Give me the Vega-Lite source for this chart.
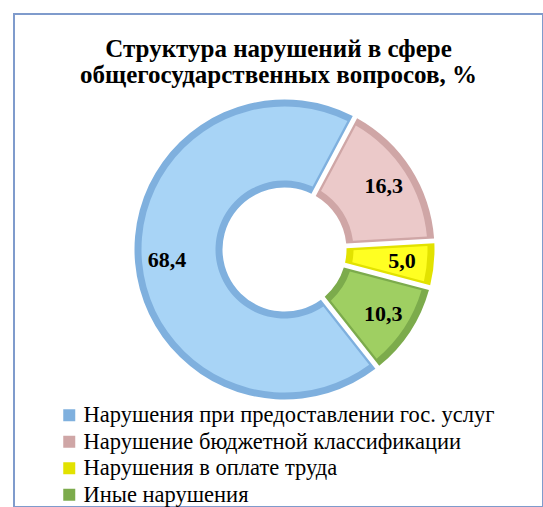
{
  "$schema": "https://vega.github.io/schema/vega-lite/v6.json",
  "width": 543,
  "height": 507,
  "autosize": {"type": "fit", "contains": "padding"},
  "padding": {"left": 14, "top": 14, "right": 0, "bottom": 0},
  "background": "white",
  "view": {"stroke": "#7f9bcc", "strokeWidth": 2, "fill": "white", "cornerRadius": 0},
  "config": {
    "view": {"stroke": "#7f9bcc", "strokeWidth": 2, "fill": "white", "cornerRadius": 0},
    "locale": {"number": {"decimal": ",", "thousands": " ", "grouping": [3], "currency": ["", ""]}}
  },
  "title": {
    "text": ["Структура нарушений в сфере", "общегосударственных вопросов, %"],
    "font": "Liberation Serif",
    "fontSize": 25,
    "fontWeight": "bold",
    "color": "black",
    "anchor": "middle",
    "lineHeight": 26,
    "offset": -74
  },
  "data": {
    "values": [
      {"category": "Нарушение бюджетной классификации", "value": 16.3, "k": 1},
      {"category": "Нарушения в оплате труда", "value": 5.0, "k": 2},
      {"category": "Иные нарушения", "value": 10.3, "k": 3},
      {"category": "Нарушения при предоставлении гос. услуг", "value": 68.4, "k": 4}
    ]
  },
  "encoding": {
    "theta": {"field": "value", "type": "quantitative", "stack": true, "scale": {"range": [0.489, 6.772]}},
    "order": {"field": "k", "type": "quantitative"}
  },
  "layer": [
    {
      "mark": {"type": "arc", "innerRadius": 62, "outerRadius": 150, "padAngle": 0.03, "x": {"expr": "width/2+6"}, "y": {"expr": "height/2-11"}},
      "encoding": {
        "color": {
          "field": "category",
          "type": "nominal",
          "scale": {
            "domain": ["Нарушения при предоставлении гос. услуг", "Нарушение бюджетной классификации", "Нарушения в оплате труда", "Иные нарушения"],
            "range": ["#7fb0de", "#cfa6a6", "#e2e200", "#7cab4c"]
          },
          "legend": {
            "orient": "none",
            "legendX": 44,
            "legendY": 390,
            "title": null,
            "symbolType": "square",
            "symbolSize": 144,
            "symbolStrokeWidth": 0,
            "labelFont": "Liberation Serif",
            "labelFontSize": 22.5,
            "labelColor": "black",
            "labelLimit": 600,
            "labelOffset": 3,
            "rowPadding": 3.5
          }
        }
      }
    },
    {
      "mark": {"type": "arc", "innerRadius": 69, "outerRadius": 143, "padAngle": 0.06, "x": {"expr": "width/2+6"}, "y": {"expr": "height/2-11"}},
      "encoding": {
        "fill": {
          "field": "category",
          "type": "nominal",
          "scale": {
            "domain": ["Нарушения при предоставлении гос. услуг", "Нарушение бюджетной классификации", "Нарушения в оплате труда", "Иные нарушения"],
            "range": ["#a8d4f6", "#ebc9c9", "#ffff22", "#9fcf62"]
          },
          "legend": null
        }
      }
    },
    {
      "mark": {"type": "text", "radius": 118, "font": "Liberation Serif", "fontSize": 22, "fontWeight": "bold", "color": "black", "x": {"expr": "width/2+6"}, "y": {"expr": "height/2-11"}},
      "encoding": {
        "text": {"field": "value", "type": "quantitative", "format": ".1f"}
      }
    }
  ]
}
